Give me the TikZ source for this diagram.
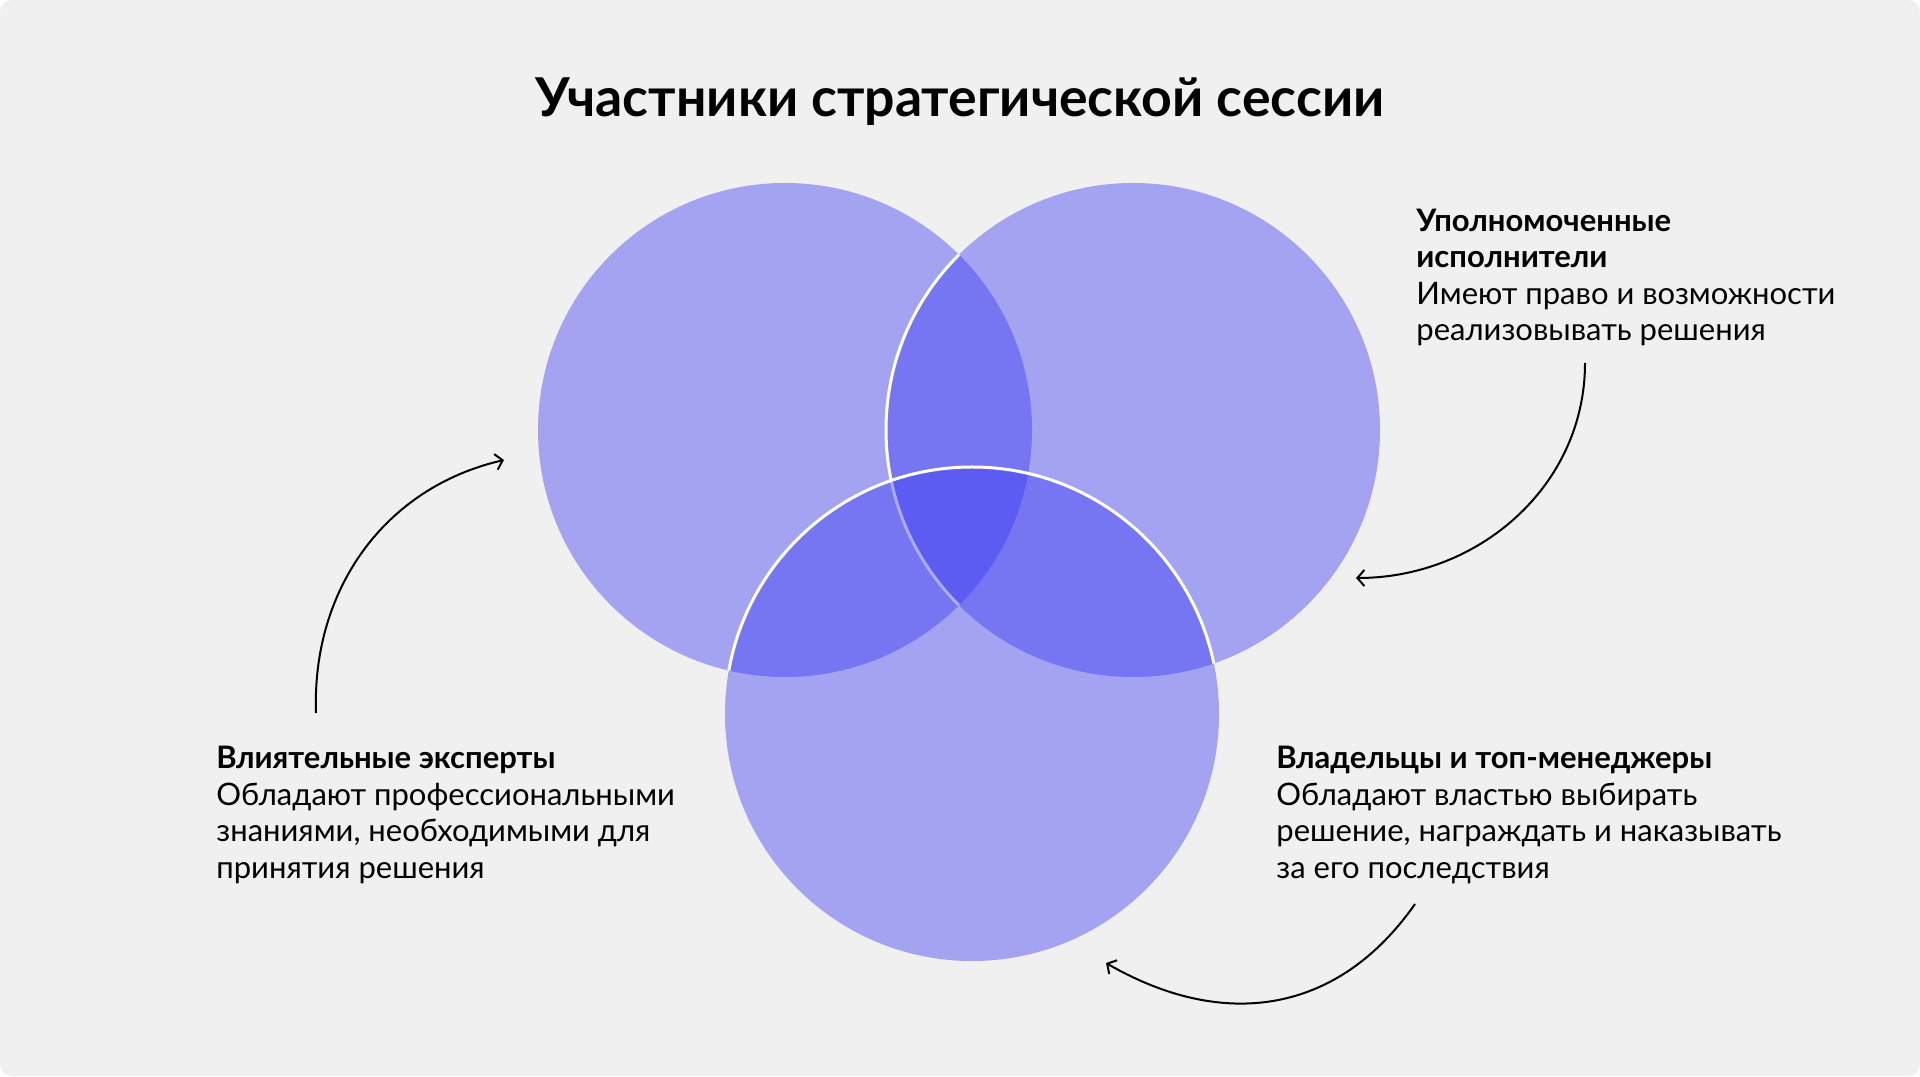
\documentclass[tikz,border=0pt]{standalone}
\usepackage{fontspec}
\setmainfont{Lato}
\usetikzlibrary{positioning,
    arrows.meta,
    calc}

\definecolor{bgGray}{HTML}{F0F0F0}
\definecolor{setBlue}{RGB}{57,57,245}

\begin{document}
\begin{tikzpicture} [x = 0.5pt, y = 0.5pt,
    > = {Straight Barb[length=3.5pt, width=8pt]},
    node distance = 174pt,
    every node/.style = {inner sep = 0pt},
    set/.style = {circle, minimum size = 247pt, fill = setBlue, fill opacity = 0.42},
    rim/.style = {draw = white, line width = 1.5pt},
    desc/.style = {anchor = base west, align = left,
        font = \fontsize{15.5}{18.25}\selectfont},
    link/.style = {->, line width = 1pt}]
\useasboundingbox (0,0) rectangle (1920,1076);
\fill[bgGray, rounded corners = 6pt] (0,0) rectangle (1920,1076);

\node[anchor = base, font = \fontsize{26.8}{30}\selectfont\bfseries] (title)
    at (960,959) {Участники стратегической сессии};

% the three sets, white rims only where they cross another set
\node[set] (cL) at (785,646) {};
\node[set, right of=cL] (cR) {};
\begin{scope}
    \clip (cL.center) circle[radius = 247];
    \draw[rim] (cR.center) circle[radius = 247];
\end{scope}
\node[set] (cB) at (972,362) {};
\begin{scope}
    \clip (cL.center) circle[radius = 247] (cR.center) circle[radius = 247];
    \draw[rim] (cB.center) circle[radius = 247];
\end{scope}

\node[desc] (exec) at (1416,735) {\textbf{Уполномоченные}\\
    \textbf{исполнители}\\
    Имеют право и возможности\\
    реализовывать решения};
\node[desc] (expert) at (216,198) {\textbf{Влиятельные эксперты}\\
    Обладают профессиональными\\
    знаниями, необходимыми для\\
    принятия решения};
\node[desc] (owner) at (1276,198) {\textbf{Владельцы и топ-менеджеры}\\
    Обладают властью выбирать\\
    решение, награждать и наказывать\\
    за его последствия};

\coordinate (execFrom) at (1585,713);
\coordinate (execTo) at (1356,498);
\coordinate (expertFrom) at (316,363);
\coordinate (expertTo) at (504,616);
\coordinate (ownerFrom) at (1415,172);
\coordinate (ownerTo) at (1106,113);

\draw[link] (execFrom) to[out=-90, in=0] (execTo);
\draw[link] (expertFrom) to[out=92, in=193] (expertTo);
\draw[link] (ownerFrom) to[out=235, in=-30, looseness=1.1] (ownerTo);
\end{tikzpicture}
\end{document}
